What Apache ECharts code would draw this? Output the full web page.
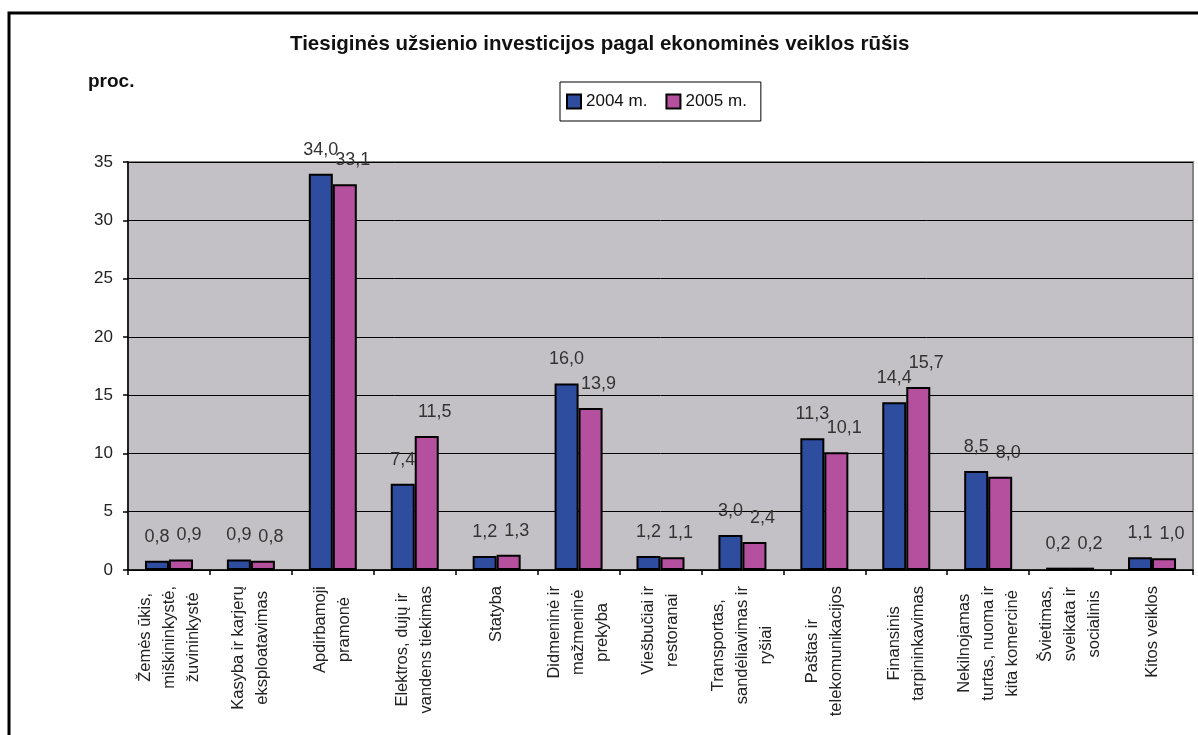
<!DOCTYPE html>
<html>
<head>
<meta charset="utf-8">
<script src="https://cdn.jsdelivr.net/npm/echarts@6/dist/echarts.min.js"></script>
<style>
  html, body { margin: 0; padding: 0; background: #fff; }
  #chart { width: 1198px; height: 735px; }
</style>
</head>
<body>
<div id="chart"></div>
<script>
// veiklos rūšys
var categories = [
  'Žemės ūkis,\nmiškininkystė,\nžuvininkystė',
  'Kasyba ir karjerų\neksploatavimas',
  'Apdirbamoji\npramonė',
  'Elektros, dujų ir\nvandens tiekimas',
  'Statyba',
  'Didmeninė ir\nmažmeninė\nprekyba',
  'Viešbučiai ir\nrestoranai',
  'Transportas,\nsandėliavimas ir\nryšiai',
  'Paštas ir\ntelekomunikacijos',
  'Finansinis\ntarpininkavimas',
  'Nekilnojamas\nturtas, nuoma ir\nkita komercinė',
  'Švietimas,\nsveikata ir\nsocialinis',
  'Kitos veiklos'
];
var values2004 = [0.8, 0.9, 34.0, 7.4, 1.2, 16.0, 1.2, 3.0, 11.3, 14.4, 8.5, 0.2, 1.1];
var values2005 = [0.9, 0.8, 33.1, 11.5, 1.3, 13.9, 1.1, 2.4, 10.1, 15.7, 8.0, 0.2, 1.0];
var seriesNames = ['2004 m.', '2005 m.'];

var fontFam = '"Liberation Sans", Arial, sans-serif';

function fmt(p) {
  return p.value.toFixed(1).replace('.', ',');
}

var chart = echarts.init(document.getElementById('chart'));

var option = {
  backgroundColor: '#fff',
  animation: false,
  textStyle: { fontFamily: fontFam },
  title: [
    {
      text: 'Tiesiginės užsienio investicijos pagal ekonominės veiklos rūšis',
      left: 290,
      top: 34,
      padding: 0,
      textStyle: { fontSize: 20.5, fontWeight: 'bold', color: '#111', fontFamily: fontFam }
    },
    {
      text: 'proc.',
      left: 88,
      top: 72,
      padding: 0,
      textStyle: { fontSize: 19, fontWeight: 'bold', color: '#111', fontFamily: fontFam }
    }
  ],
  legend: {
    data: seriesNames,
    left: 560,
    top: 82,
    orient: 'horizontal',
    borderColor: '#000',
    borderWidth: 1,
    padding: [11, 14, 11, 6],
    itemWidth: 14,
    itemHeight: 14,
    itemGap: 18,
    icon: 'rect',
    textStyle: { fontSize: 17, color: '#111', fontFamily: fontFam },
    itemStyle: { borderColor: '#000', borderWidth: 2 }
  },
  graphic: [
    {
      type: 'polyline',
      shape: { points: [[9, 735], [9, 13], [1198, 13]] },
      style: { stroke: '#000', lineWidth: 3, fill: null }
    }
  ],
  grid: {
    left: 128,
    right: 5,
    top: 162,
    bottom: 165,
    show: true,
    backgroundColor: '#C3C1C5',
    borderColor: '#858585',
    borderWidth: 2
  },
  xAxis: {
    type: 'category',
    data: categories,
    axisLine: { lineStyle: { color: '#000', width: 1.5 } },
    axisTick: { show: true, length: 5, lineStyle: { color: '#000', width: 1.5 } },
    axisLabel: {
      interval: 0,
      rotate: 90,
      margin: 16,
      color: '#222',
      fontSize: 16.5,
      lineHeight: 24,
      formatter: function (v) {
        return v.split('\n').map(function (s) { return '{c|' + s + '}'; }).join('\n');
      },
      rich: {
        c: { align: 'center', fontSize: 16.5, lineHeight: 24, color: '#222', fontFamily: fontFam }
      }
    }
  },
  yAxis: {
    type: 'value',
    min: 0,
    max: 35,
    interval: 5,
    axisLine: { show: true, lineStyle: { color: '#000', width: 1.5 } },
    axisTick: { show: true, length: 5, lineStyle: { color: '#000', width: 1.5 } },
    axisLabel: { margin: 15, fontSize: 17, color: '#222' },
    splitLine: { show: true, lineStyle: { color: '#000', width: 1 } }
  },
  series: [
    {
      name: seriesNames[0],
      type: 'bar',
      data: values2004,
      barWidth: 24,
      barGap: '0%',
      itemStyle: { color: '#2E4D9F', borderColor: '#000', borderWidth: 2 },
      label: {
        show: true,
        position: 'top',
        distance: 15,
        fontSize: 18,
        color: '#333',
        formatter: fmt
      }
    },
    {
      name: seriesNames[1],
      type: 'bar',
      data: values2005,
      barWidth: 24,
      barGap: '0%',
      itemStyle: { color: '#B5509F', borderColor: '#000', borderWidth: 2 },
      label: {
        show: true,
        position: 'top',
        distance: 15,
        offset: [8, 0],
        fontSize: 18,
        color: '#333',
        formatter: fmt
      }
    }
  ]
};

chart.setOption(option);
</script>
</body>
</html>
